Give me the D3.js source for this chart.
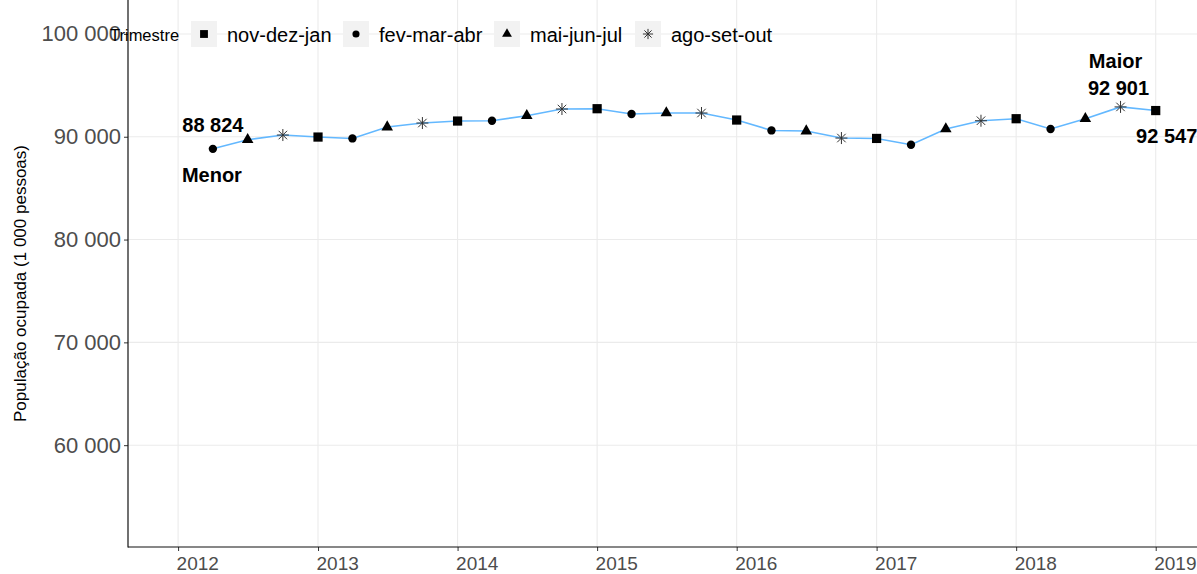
<!DOCTYPE html>
<html>
<head>
<meta charset="utf-8">
<script src="https://cdn.jsdelivr.net/npm/d3@7"></script>
<style>
  body { margin: 0; background: #fff; }
  svg { display: block; font-family: "Liberation Sans", Arial, sans-serif; }
</style>
</head>
<body>
<div id="chart"></div>
<script>

// data - one point per moving quarter (date = first day of last month)
const datas = ['2012-04', '2012-07', '2012-10',
  '2013-01', '2013-04', '2013-07', '2013-10',
  '2014-01', '2014-04', '2014-07', '2014-10',
  '2015-01', '2015-04', '2015-07', '2015-10',
  '2016-01', '2016-04', '2016-07', '2016-10',
  '2017-01', '2017-04', '2017-07', '2017-10',
  '2018-01', '2018-04', '2018-07', '2018-10',
  '2019-01'];

const ocupados = [88824, 89708, 90165,
  89970, 89835, 90944, 91333,
  91528, 91558, 92045, 92697,
  92726, 92210, 92308, 92308,
  91626, 90613, 90555, 89873,
  89835, 89221, 90750, 91558,
  91753, 90750, 91753, 92901,
  92547];

const trimestres = ['nov-dez-jan', 'fev-mar-abr', 'mai-jun-jul', 'ago-set-out'];
const yTicks = [60000, 70000, 80000, 90000, 100000];
const xTicks = [2012, 2013, 2014, 2015, 2016, 2017, 2018, 2019];

const dateParser = d3.timeParse('%Y-%m');

let dataset = datas.map((d, i) => {
  let dt = dateParser(d);
  return {
    date: dt,
    valor: ocupados[i],
    trimestre: trimestres[Math.floor(dt.getMonth() / 3)]
  };
});

//2 - dimensions
let dimensions = { width: 1197, height: 574 };
let panel = { left: 128, right: 1197, top: 0, bottom: 547 };

const fmt = v => d3.format(',')(v).replace(/,/g, ' ');

let svg = d3.select('#chart').append('svg')
  .attr('width', dimensions.width)
  .attr('height', dimensions.height);

//3 - scales
let xScale = d3.scaleTime()
  .domain([new Date(2011, 7, 23), new Date(2019, 3, 19)])
  .range([panel.left, panel.right]);

let yScale = d3.scaleLinear()
  .domain([50000, 103300])
  .range([548, 0]);

// grid
let grid = svg.append('g');
grid.selectAll('.gy').data(yTicks).enter().append('line')
  .attr('x1', panel.left).attr('x2', panel.right)
  .attr('y1', d => yScale(d)).attr('y2', d => yScale(d))
  .style('stroke', '#ebebeb').style('stroke-width', 1.1);
grid.selectAll('.gx').data(xTicks).enter().append('line')
  .attr('x1', d => xScale(new Date(d, 0, 1))).attr('x2', d => xScale(new Date(d, 0, 1)))
  .attr('y1', panel.top).attr('y2', panel.bottom)
  .style('stroke', '#ebebeb').style('stroke-width', 1.1);

// axes
let yAxis = d3.axisLeft(yScale).tickValues(yTicks).tickSize(4).tickPadding(3).tickFormat(fmt);
let yG = svg.append('g').attr('transform', `translate(${panel.left},0)`).call(yAxis);
yG.select('.domain').remove();
yG.selectAll('.tick line').style('stroke', '#333');
yG.selectAll('.tick text').style('font-size', '22px').style('fill', '#4d4d4d');

let xAxis = d3.axisBottom(xScale)
  .tickValues(xTicks.map(y => new Date(y, 0, 1)))
  .tickSize(4).tickPadding(6).tickFormat(d3.timeFormat('%Y'));
let xG = svg.append('g').attr('transform', `translate(0,${panel.bottom})`).call(xAxis);
xG.select('.domain').remove();
xG.selectAll('.tick line').style('stroke', '#333');
xG.selectAll('.tick text')
  .attr('text-anchor', 'start')
  .attr('x', -2)
  .style('font-size', '19px').style('fill', '#4d4d4d');

// axis lines
svg.append('line')
  .attr('x1', panel.left).attr('x2', panel.left)
  .attr('y1', panel.top).attr('y2', panel.bottom + 0.5)
  .style('stroke', '#111').style('stroke-width', 1.2);
svg.append('line')
  .attr('x1', panel.left).attr('x2', panel.right)
  .attr('y1', panel.bottom).attr('y2', panel.bottom)
  .style('stroke', '#111').style('stroke-width', 1.2);

svg.append('text')
  .attr('transform', `translate(26, ${(panel.top + panel.bottom) / 2 + 10}) rotate(-90)`)
  .attr('text-anchor', 'middle')
  .style('font-size', '17px')
  .style('fill', '#000')
  .text('População ocupada (1 000 pessoas)');

// line
let lineGenerator = d3.line()
  .x(d => xScale(d.date))
  .y(d => yScale(d.valor));

svg.append('path')
  .attr('d', lineGenerator(dataset))
  .style('fill', 'none')
  .style('stroke', '#63b8ff')
  .style('stroke-width', 1.6);

// symbols
const asterisk = s => {
  let r = s / 2, q = r * Math.SQRT1_2;
  return `M${-r},0L${r},0M0,${-r}L0,${r}M${-q},${-q}L${q},${q}M${-q},${q}L${q},${-q}`;
};
function drawShape(sel, trimestre, scale) {
  if (trimestre === 'ago-set-out') {
    return sel.append('path').attr('d', asterisk(12 * scale))
      .style('fill', 'none').style('stroke', '#333').style('stroke-width', 1);
  }
  let type = { 'nov-dez-jan': d3.symbolSquare, 'fev-mar-abr': d3.symbolCircle, 'mai-jun-jul': d3.symbolTriangle }[trimestre];
  let size = { 'nov-dez-jan': 85, 'fev-mar-abr': 55, 'mai-jun-jul': 58 }[trimestre];
  return sel.append('path').attr('d', d3.symbol().type(type).size(size * scale * scale)())
    .style('fill', '#000');
}

let pts = svg.append('g');
dataset.forEach(d => {
  let g = pts.append('g').attr('transform', `translate(${xScale(d.date)},${yScale(d.valor)})`);
  drawShape(g, d.trimestre, 1);
});

// annotations
let minD = dataset[d3.minIndex(dataset, d => d.valor)];
let maxD = dataset[d3.maxIndex(dataset, d => d.valor)];
let lastD = dataset[dataset.length - 1];

let notes = [
  { d: minD, dx: 0, dy: -17, t: fmt(minD.valor) },
  { d: minD, dx: -1, dy: 33, t: 'Menor' },
  { d: maxD, dx: -2, dy: -12, t: fmt(maxD.valor) },
  { d: maxD, dx: -5, dy: -39, t: 'Maior' },
  { d: lastD, dx: 11, dy: 32, t: fmt(lastD.valor) }
];
svg.selectAll('.note').data(notes).enter().append('text')
  .attr('x', n => xScale(n.d.date) + n.dx)
  .attr('y', n => yScale(n.d.valor) + n.dy)
  .attr('text-anchor', 'middle')
  .style('font-size', '20px')
  .style('font-weight', 'bold')
  .style('fill', '#000')
  .text(n => n.t);

// legend
let legend = svg.append('g');
legend.append('text')
  .attr('x', 110).attr('y', 41)
  .style('font-size', '16.5px').style('fill', '#000')
  .text('Trimestre');

const keyX = [191, 343, 494, 635];
trimestres.forEach((t, i) => {
  let k = legend.append('g').attr('transform', `translate(${keyX[i]},21)`);
  k.append('rect').attr('width', 26).attr('height', 26).style('fill', '#f2f2f2');
  let s = k.append('g').attr('transform', 'translate(13,13)');
  drawShape(s, t, 0.85);
  k.append('text')
    .attr('x', 36).attr('y', 21)
    .style('font-size', '20px').style('fill', '#000')
    .text(t);
});

</script>
</body>
</html>
